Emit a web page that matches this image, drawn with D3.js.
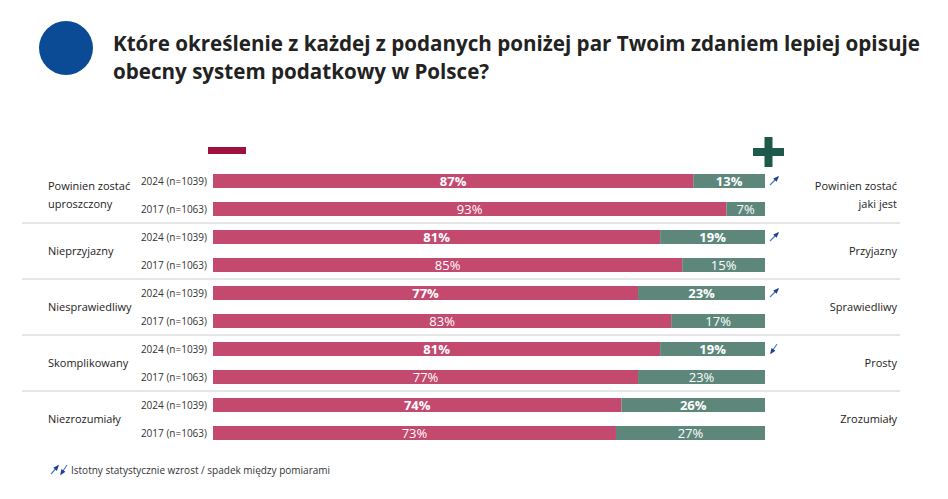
<!DOCTYPE html><html><head><meta charset="utf-8"><script src="https://cdn.jsdelivr.net/npm/d3@7"></script>
<style>body{margin:0;background:#fff;font-family:"Open Sans",sans-serif}</style></head><body>
<svg id="c" width="948" height="499"></svg>
<script>
const categories=["Powinien zostać uproszczony","Nieprzyjazny","Niesprawiedliwy","Skomplikowany","Niezrozumiały"];
const rightLabels=["Powinien zostać jaki jest","Przyjazny","Sprawiedliwy","Prosty","Zrozumiały"];
const years=["2024 (n=1039)","2017 (n=1063)"];
const neg2024=[87,81,77,81,74], pos2024=[13,19,23,19,26];
const neg2017=[93,85,83,77,73], pos2017=[7,15,17,23,27];
const arrows=["up","up","up","down",null];
const svg=d3.select("#c");
const F="'Open Sans',sans-serif";
function arrow(x0,y0,x1,y1){
 svg.append("line").attr("x1",x0).attr("y1",y0).attr("x2",x1).attr("y2",y1).attr("stroke","#4a7fd0").attr("stroke-width",1.2);
 const a=Math.atan2(y1-y0,x1-x0),L=5,w=0.5;
 const p1=[x1-L*Math.cos(a-w),y1-L*Math.sin(a-w)],p2=[x1-L*Math.cos(a+w),y1-L*Math.sin(a+w)];
 svg.append("path").attr("d",`M${x1+1.5*Math.cos(a)},${y1+1.5*Math.sin(a)}L${p1}L${p2}Z`).attr("fill","#1f3f8f");
}
svg.append("circle").attr("cx",66).attr("cy",48).attr("r",27).attr("fill","#0b4a94");
svg.append("text").attr("x",113).attr("y",51).attr("font-family",F).attr("font-weight","bold").attr("font-size",20.6).attr("fill","#222").text("Które określenie z każdej z podanych poniżej par Twoim zdaniem lepiej opisuje");
svg.append("text").attr("x",113).attr("y",79).attr("font-family",F).attr("font-weight","bold").attr("font-size",20.6).attr("fill","#222").text("obecny system podatkowy w Polsce?");
svg.append("rect").attr("x",208).attr("y",147).attr("width",38).attr("height",7).attr("fill","#a0103f");
svg.append("rect").attr("x",753).attr("y",148).attr("width",31).attr("height",8).attr("fill","#1d5a4b");
svg.append("rect").attr("x",764.5).attr("y",137).attr("width",8).attr("height",30).attr("fill","#1d5a4b");
const x=d3.scaleLinear().domain([0,100]).range([213,765]);
const rowsY=[];categories.forEach((c,i)=>{rowsY.push({i,yr:0,n:neg2024[i],p:pos2024[i]});rowsY.push({i,yr:1,n:neg2017[i],p:pos2017[i]});});
const y=d3.scaleBand().domain(d3.range(10)).range([167,447]).paddingInner(0.5).paddingOuter(0.25);
const bh=y.bandwidth();
rowsY.forEach((r,k)=>{
 const yy=y(k);
 svg.append("rect").attr("x",x(0)).attr("y",yy).attr("width",x(r.n)-x(0)).attr("height",bh).attr("fill","#c4496f");
 svg.append("rect").attr("x",x(r.n)).attr("y",yy).attr("width",x(100)-x(r.n)).attr("height",bh).attr("fill","#5e877c");
 const bold=r.yr==0;
 svg.append("text").attr("x",(x(0)+x(r.n))/2).attr("y",yy+bh/2+5).attr("text-anchor","middle").attr("font-family",F).attr("font-size",13).attr("font-weight",bold?"bold":"normal").attr("fill","#fff").text(r.n+"%");
 svg.append("text").attr("x",(x(r.n)+x(100))/2).attr("y",yy+bh/2+5).attr("text-anchor","middle").attr("font-family",F).attr("font-size",13).attr("font-weight",bold?"bold":"normal").attr("fill","#fff").text(r.p+"%");
 svg.append("text").attr("x",207).attr("y",yy+bh/2+4).attr("text-anchor","end").attr("font-family",F).attr("font-size",10).attr("fill","#333").text(years[r.yr]);
});
categories.forEach((c,i)=>{
 const cy=(y(2*i)+y(2*i+1)+bh)/2;
 const lines=c==="Powinien zostać uproszczony"?["Powinien zostać","uproszczony"]:[c];
 lines.forEach((l,j)=>svg.append("text").attr("x",48).attr("y",cy+4+(j-(lines.length-1)/2)*18).attr("font-family",F).attr("font-size",11).attr("fill","#222").text(l));
 const rl=rightLabels[i]==="Powinien zostać jaki jest"?["Powinien zostać","jaki jest"]:[rightLabels[i]];
 rl.forEach((l,j)=>svg.append("text").attr("x",897).attr("y",cy+4+(j-(rl.length-1)/2)*18).attr("text-anchor","end").attr("font-family",F).attr("font-size",11).attr("fill","#222").text(l));
 if(i<4){const sy=y(2*i+1)+bh+(y(2*i+2)-y(2*i+1)-bh)/2;svg.append("line").attr("x1",22).attr("x2",900).attr("y1",sy).attr("y2",sy).attr("stroke","#ccc");}
 if(arrows[i]){const ay=y(2*i)+bh/2, ax=774;
  if(arrows[i]==="up") arrow(ax-4,ay+4,ax+4,ay-4); else arrow(ax+3,ay-5,ax-3,ay+4);}
});
const lx=55,ly=470;
arrow(lx-4,ly+4,lx+3,ly-4);
arrow(lx+12,ly-5,lx+6,ly+4);
svg.append("text").attr("x",lx+16).attr("y",ly+4).attr("font-family",F).attr("font-size",10).attr("fill","#333").text("Istotny statystycznie wzrost / spadek między pomiarami");
</script></body></html>
